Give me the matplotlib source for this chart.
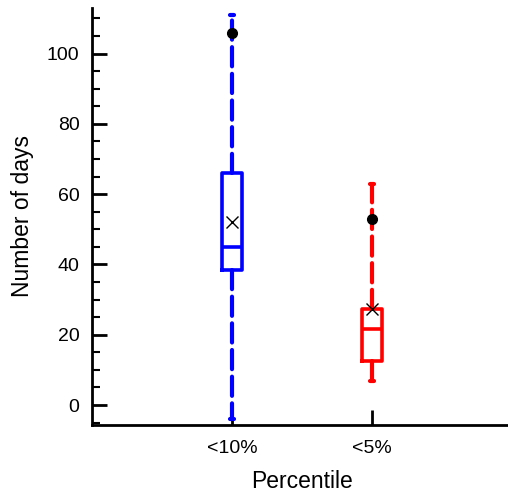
import numpy as np
import matplotlib.pyplot as plt
from matplotlib.ticker import MultipleLocator

plt.rcParams['font.family'] = ['Liberation Sans', 'DejaVu Sans']

labels = ['<10%', '<5%']
colors = ['blue', 'red']
q1 = [38.3, 12.6]
med = [44.9, 21.7]
q3 = [66.0, 27.3]
whislo = [-4.0, 6.9]
whishi = [111.0, 63.0]
means = [52.2, 27.3]
outliers = [[105.9], [52.9]]

stats = []
for i in range(len(labels)):
    stats.append(dict(label=labels[i], q1=q1[i], med=med[i], q3=q3[i],
                      whislo=whislo[i], whishi=whishi[i], mean=means[i],
                      fliers=outliers[i]))

fig = plt.figure(figsize=(5.08, 4.92), dpi=100)
ax = fig.add_axes([0.181, 0.136, 0.827, 0.848])

for i in range(len(labels)):
    c = colors[i]
    ax.bxp([stats[i]], positions=[i + 1], widths=0.14, capwidths=0.035,
           showmeans=True, showfliers=True,
           boxprops=dict(color=c, linewidth=2.6),
           medianprops=dict(color=c, linewidth=2.6),
           whiskerprops=dict(color=c, linewidth=3.0, linestyle=(0, (4.6, 1.8)),
                             dash_capstyle='round'),
           capprops=dict(color=c, linewidth=3.0, solid_capstyle='round'),
           meanprops=dict(marker='x', markeredgecolor='black', markersize=8, markeredgewidth=1),
           flierprops=dict(marker='o', markerfacecolor='black', markeredgecolor='black', markersize=7))

ax.set_xlim(0, 3)
ax.set_ylim(-5.7, 113)
ax.set_xticks([1, 2])
ax.set_xticklabels(labels)
ax.yaxis.set_major_locator(MultipleLocator(20))
ax.yaxis.set_minor_locator(MultipleLocator(5))

ax.spines['top'].set_visible(False)
ax.spines['right'].set_visible(False)
ax.spines['left'].set_linewidth(2)
ax.spines['bottom'].set_linewidth(2)
ax.tick_params(axis='both', which='major', direction='in', length=11, width=2,
               labelsize=14, pad=9)
ax.tick_params(axis='y', which='minor', direction='in', length=6, width=1.5)
ax.tick_params(axis='x', which='major', pad=11)

ax.set_xlabel('Percentile', fontsize=16.5, labelpad=9)
ax.set_ylabel('Number of days', fontsize=16.5, labelpad=9)

plt.savefig('out.png', dpi=100)
